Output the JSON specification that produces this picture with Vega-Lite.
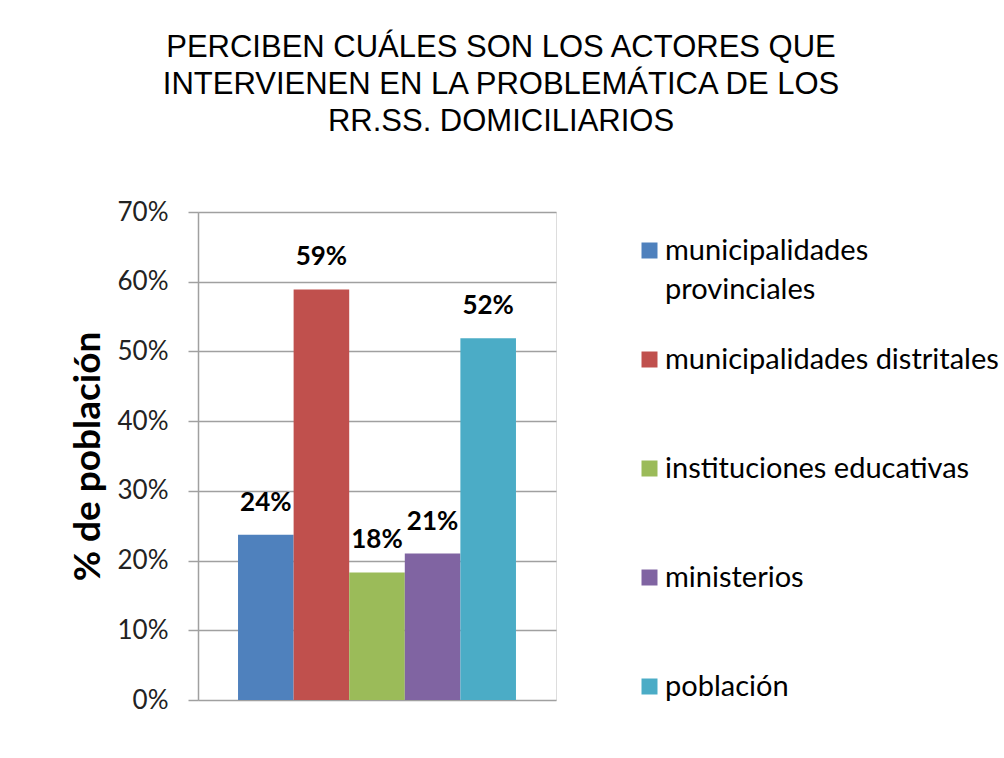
{
  "$schema": "https://vega.github.io/schema/vega-lite/v6.json",
  "width": 358,
  "height": 488,
  "autosize": {"type": "none"},
  "padding": {"left": 198, "top": 212, "right": 448, "bottom": 58},
  "background": "white",
  "title": {
    "text": ["PERCIBEN CUÁLES SON LOS ACTORES QUE", "INTERVIENEN EN LA PROBLEMÁTICA DE LOS", "RR.SS. DOMICILIARIOS"],
    "font": "Liberation Sans",
    "fontSize": 31,
    "fontWeight": "normal",
    "lineHeight": 37,
    "anchor": "middle",
    "dx": 124,
    "offset": 61,
    "color": "black"
  },
  "data": {
    "values": [
      {"actor": "municipalidades provinciales", "valor": 0.237},
      {"actor": "municipalidades distritales", "valor": 0.589},
      {"actor": "instituciones educativas", "valor": 0.183},
      {"actor": "ministerios", "valor": 0.21},
      {"actor": "población", "valor": 0.519}
    ]
  },
  "encoding": {
    "x": {
      "field": "actor",
      "type": "nominal",
      "sort": null,
      "axis": null,
      "scale": {"paddingInner": 0, "paddingOuter": 0.72}
    },
    "y": {
      "field": "valor",
      "type": "quantitative",
      "scale": {"domain": [0, 0.7], "nice": false},
      "axis": {
        "values": [0, 0.1, 0.2, 0.3, 0.4, 0.5, 0.6, 0.7],
        "format": ".0%",
        "title": "% de población",
        "titleFont": "Lato",
        "titleFontSize": 37,
        "titleFontWeight": "bold",
        "titleColor": "black",
        "titlePadding": 10,
        "labelFont": "Lato",
        "labelFontSize": 26,
        "labelColor": "#222222",
        "labelPadding": 20,
        "tickSize": 10,
        "tickColor": "#a0a0a0",
        "tickWidth": 1.5,
        "domainColor": "#a0a0a0",
        "domainWidth": 1.5,
        "gridColor": "#a0a0a0",
        "gridWidth": 1.5
      }
    }
  },
  "layer": [
    {
      "mark": {"type": "bar"},
      "encoding": {
        "color": {
          "field": "actor",
          "type": "nominal",
          "sort": null,
          "scale": {
            "domain": ["municipalidades provinciales", "municipalidades distritales", "instituciones educativas", "ministerios", "población"],
            "range": ["#4F81BD", "#C0504D", "#9BBB59", "#8064A2", "#4BACC6"]
          },
          "legend": {
            "orient": "right",
            "offset": 55,
            "padding": 24,
            "title": null,
            "symbolType": "square",
            "symbolSize": 256,
            "symbolStrokeWidth": 0,
            "labelFont": "Lato",
            "labelFontSize": 29,
            "labelColor": "black",
            "labelLimit": 400,
            "labelOffset": 1,
            "gridAlign": "all",
            "rowPadding": 40,
            "labelExpr": "datum.label == 'municipalidades provinciales' ? ['municipalidades', 'provinciales'] : datum.label",
            "encode": {
              "labels": {
                "update": {
                  "lineHeight": {"value": 39}
                }
              }
            }
          }
        }
      }
    },
    {
      "mark": {"type": "text", "dy": -32, "baseline": "middle", "font": "Lato", "fontWeight": "bold", "fontSize": 26, "color": "black"},
      "encoding": {
        "text": {"field": "valor", "type": "quantitative", "format": ".0%"}
      }
    }
  ]
}
